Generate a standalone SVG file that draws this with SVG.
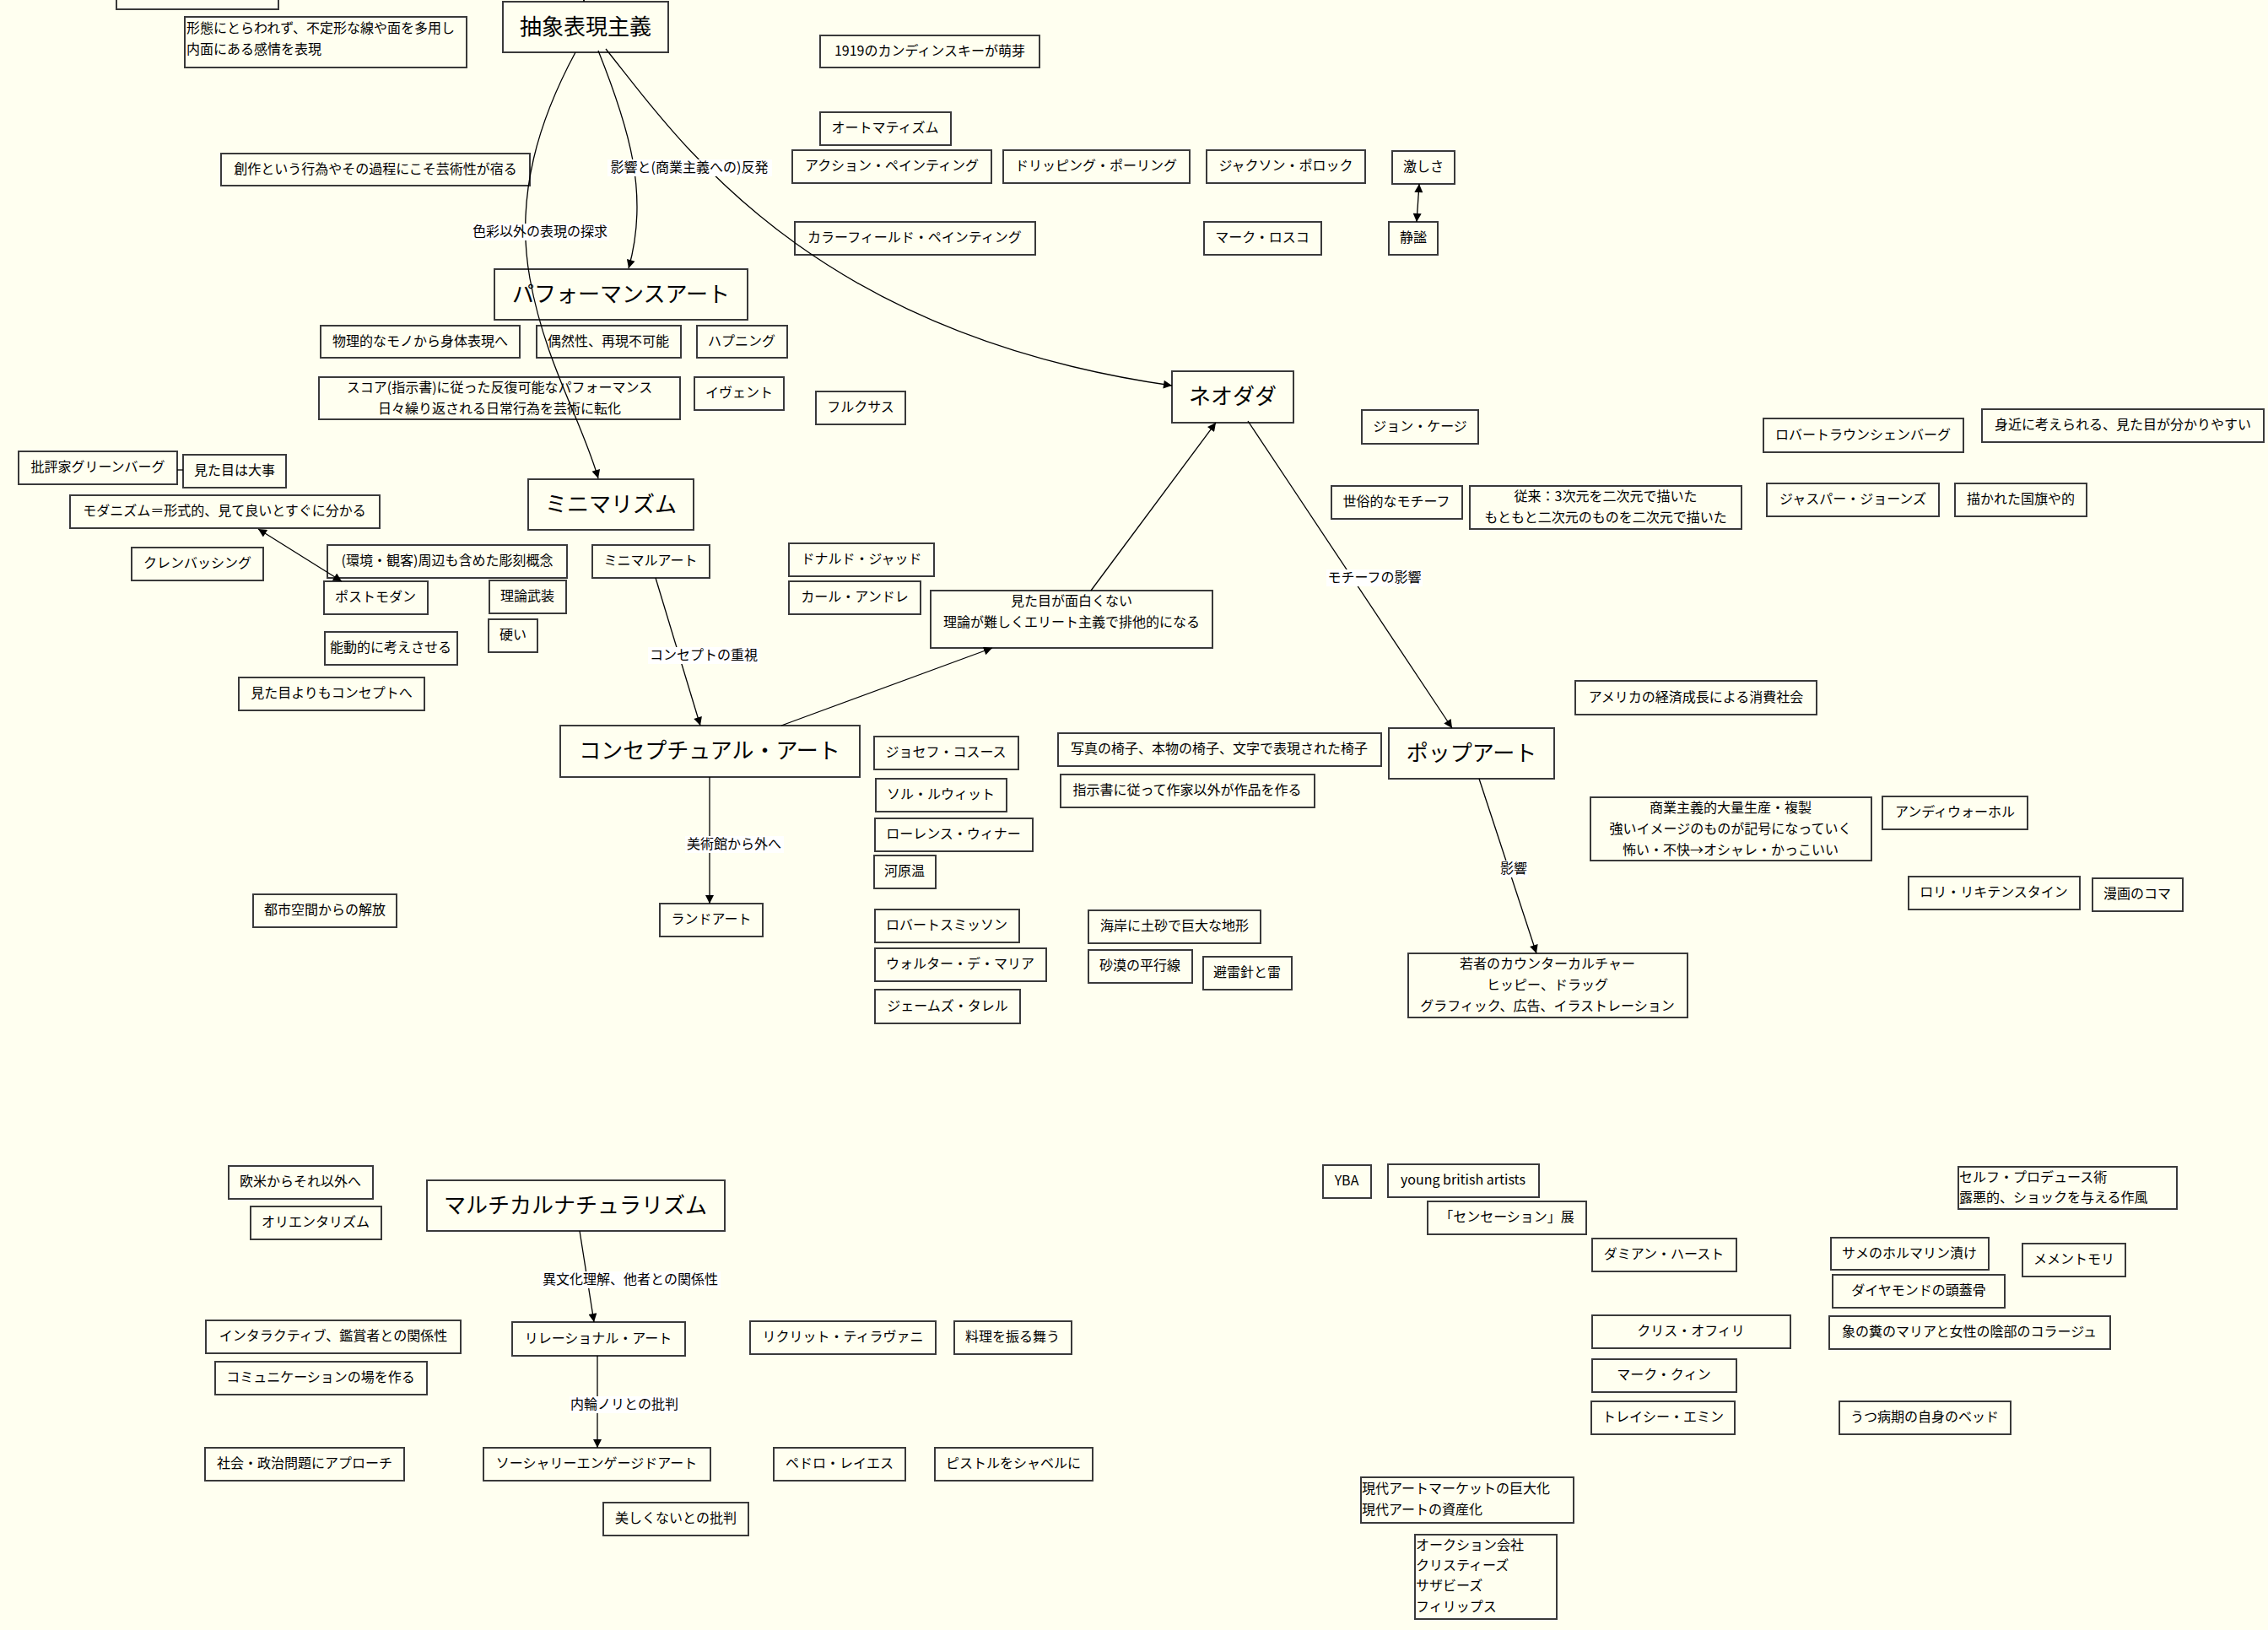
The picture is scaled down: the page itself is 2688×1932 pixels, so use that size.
<svg xmlns="http://www.w3.org/2000/svg" width="2688" height="1932" viewBox="0 0 2688 1932">
<defs>
<marker id="ah" viewBox="0 0 10 10" refX="10" refY="5" markerUnits="userSpaceOnUse" markerWidth="15" markerHeight="10" orient="auto-start-reverse"><path d="M0,0 L10,5 L0,10 Z" fill="#000"/></marker>
<style>
.n rect{fill:none;stroke:#3a3a3a;stroke-width:2}
text{font-family:"Noto Sans CJK JP","Noto Sans CJK SC",sans-serif;font-size:16px;fill:#000;text-anchor:middle;dominant-baseline:central;transform:translateY(-2px)}
text.b{font-size:26px}
text.l{text-anchor:start}
.e{stroke:#000;stroke-width:1.3;fill:none}
.lb{fill:#fff}
</style>
</defs>
<rect x="0" y="0" width="2688" height="1932" fill="#FFFFF0"/>
<g id="nodes">
<g id="n_top" class="n"><rect x="138" y="-30" width="192" height="41"/></g>
<g id="n_keitai" class="n"><rect x="219" y="20" width="334" height="60"/><text class="l" x="221" y="34">形態にとらわれず、不定形な線や面を多用し</text><text class="l" x="221" y="59">内面にある感情を表現</text></g>
<g id="n_chusho" class="n"><rect x="596" y="2" width="196" height="60"/><text class="b" x="694" y="31">抽象表現主義</text></g>
<g id="n_1919" class="n"><rect x="972" y="42" width="260" height="38"/><text x="1102" y="61">1919のカンディンスキーが萌芽</text></g>
<g id="n_sosaku" class="n"><rect x="262" y="182" width="366" height="38"/><text x="445" y="201">創作という行為やその過程にこそ芸術性が宿る</text></g>
<g id="n_auto" class="n"><rect x="972" y="133" width="155" height="39"/><text x="1049" y="152">オートマティズム</text></g>
<g id="n_action" class="n"><rect x="939" y="178" width="236" height="39"/><text x="1057" y="197">アクション・ペインティング</text></g>
<g id="n_drip" class="n"><rect x="1189" y="178" width="221" height="39"/><text x="1299" y="197">ドリッピング・ポーリング</text></g>
<g id="n_pollock" class="n"><rect x="1430" y="178" width="188" height="39"/><text x="1524" y="197">ジャクソン・ポロック</text></g>
<g id="n_hageshisa" class="n"><rect x="1650" y="179" width="74" height="39"/><text x="1687" y="198">激しさ</text></g>
<g id="n_colorfield" class="n"><rect x="942" y="263" width="285" height="39"/><text x="1084" y="282">カラーフィールド・ペインティング</text></g>
<g id="n_rothko" class="n"><rect x="1427" y="263" width="139" height="39"/><text x="1496" y="282">マーク・ロスコ</text></g>
<g id="n_seihitsu" class="n"><rect x="1646" y="263" width="58" height="39"/><text x="1675" y="282">静謐</text></g>
<g id="n_perf" class="n"><rect x="586" y="319" width="300" height="60"/><text class="b" x="736" y="348">パフォーマンスアート</text></g>
<g id="n_butsuri" class="n"><rect x="380" y="386" width="236" height="38"/><text x="498" y="405">物理的なモノから身体表現へ</text></g>
<g id="n_guzen" class="n"><rect x="636" y="386" width="171" height="38"/><text x="721" y="405">偶然性、再現不可能</text></g>
<g id="n_happening" class="n"><rect x="826" y="386" width="107" height="38"/><text x="879" y="405">ハプニング</text></g>
<g id="n_score" class="n"><rect x="378" y="447" width="428" height="50"/><text x="592" y="460">スコア(指示書)に従った反復可能なパフォーマンス</text><text x="592" y="485">日々繰り返される日常行為を芸術に転化</text></g>
<g id="n_event" class="n"><rect x="823" y="447" width="106" height="39"/><text x="876" y="466">イヴェント</text></g>
<g id="n_fluxus" class="n"><rect x="967" y="464" width="106" height="39"/><text x="1020" y="483">フルクサス</text></g>
<g id="n_neodada" class="n"><rect x="1389" y="440" width="144" height="61"/><text class="b" x="1461" y="469">ネオダダ</text></g>
<g id="n_cage" class="n"><rect x="1614" y="486" width="138" height="40"/><text x="1683" y="506">ジョン・ケージ</text></g>
<g id="n_rauschenberg" class="n"><rect x="2090" y="496" width="237" height="40"/><text x="2208" y="516">ロバートラウンシェンバーグ</text></g>
<g id="n_mijika" class="n"><rect x="2349" y="485" width="334" height="39"/><text x="2516" y="504">身近に考えられる、見た目が分かりやすい</text></g>
<g id="n_sezoku" class="n"><rect x="1578" y="576" width="155" height="39"/><text x="1655" y="595">世俗的なモチーフ</text></g>
<g id="n_jurai" class="n"><rect x="1742" y="576" width="322" height="51"/><text x="1903" y="589">従来：3次元を二次元で描いた</text><text x="1903" y="614">もともと二次元のものを二次元で描いた</text></g>
<g id="n_johns" class="n"><rect x="2094" y="573" width="204" height="39"/><text x="2196" y="592">ジャスパー・ジョーンズ</text></g>
<g id="n_kokki" class="n"><rect x="2317" y="573" width="156" height="39"/><text x="2395" y="592">描かれた国旗や的</text></g>
<g id="n_greenberg" class="n"><rect x="22" y="535" width="188" height="39"/><text x="116" y="554">批評家グリーンバーグ</text></g>
<g id="n_mitame" class="n"><rect x="217" y="539" width="122" height="39"/><text x="278" y="558">見た目は大事</text></g>
<g id="n_modernism" class="n"><rect x="83" y="587" width="367" height="39"/><text x="266" y="606">モダニズム＝形式的、見て良いとすぐに分かる</text></g>
<g id="n_minimalism" class="n"><rect x="626" y="568" width="196" height="60"/><text class="b" x="724" y="597">ミニマリズム</text></g>
<g id="n_kuren" class="n"><rect x="156" y="649" width="156" height="39"/><text x="234" y="668">クレンバッシング</text></g>
<g id="n_kankyo" class="n"><rect x="388" y="646" width="284" height="39"/><text x="530" y="665">(環境・観客)周辺も含めた彫刻概念</text></g>
<g id="n_minimalart" class="n"><rect x="702" y="646" width="139" height="39"/><text x="771" y="665">ミニマルアート</text></g>
<g id="n_postmodern" class="n"><rect x="384" y="689" width="123" height="39"/><text x="445" y="708">ポストモダン</text></g>
<g id="n_riron" class="n"><rect x="580" y="688" width="91" height="39"/><text x="625" y="707">理論武装</text></g>
<g id="n_katai" class="n"><rect x="579" y="734" width="58" height="39"/><text x="608" y="753">硬い</text></g>
<g id="n_nodo" class="n"><rect x="385" y="749" width="157" height="39"/><text x="463" y="768">能動的に考えさせる</text></g>
<g id="n_mitameyori" class="n"><rect x="283" y="803" width="220" height="39"/><text x="393" y="822">見た目よりもコンセプトへ</text></g>
<g id="n_judd" class="n"><rect x="935" y="644" width="172" height="39"/><text x="1021" y="663">ドナルド・ジャッド</text></g>
<g id="n_andre" class="n"><rect x="935" y="689" width="156" height="39"/><text x="1013" y="708">カール・アンドレ</text></g>
<g id="n_omoshiroku" class="n"><rect x="1103" y="700" width="334" height="68"/><text x="1270" y="713">見た目が面白くない</text><text x="1270" y="738">理論が難しくエリート主義で排他的になる</text></g>
<g id="n_conceptual" class="n"><rect x="664" y="860" width="355" height="61"/><text class="b" x="841" y="889">コンセプチュアル・アート</text></g>
<g id="n_kosuth" class="n"><rect x="1036" y="873" width="171" height="39"/><text x="1121" y="892">ジョセフ・コスース</text></g>
<g id="n_lewitt" class="n"><rect x="1038" y="923" width="155" height="39"/><text x="1115" y="942">ソル・ルウィット</text></g>
<g id="n_weiner" class="n"><rect x="1037" y="970" width="187" height="39"/><text x="1130" y="989">ローレンス・ウィナー</text></g>
<g id="n_kawara" class="n"><rect x="1036" y="1014" width="73" height="39"/><text x="1072" y="1033">河原温</text></g>
<g id="n_isu" class="n"><rect x="1254" y="869" width="383" height="39"/><text x="1445" y="888">写真の椅子、本物の椅子、文字で表現された椅子</text></g>
<g id="n_shiji" class="n"><rect x="1257" y="918" width="301" height="39"/><text x="1407" y="937">指示書に従って作家以外が作品を作る</text></g>
<g id="n_america" class="n"><rect x="1867" y="807" width="286" height="40"/><text x="2010" y="827">アメリカの経済成長による消費社会</text></g>
<g id="n_pop" class="n"><rect x="1646" y="863" width="196" height="60"/><text class="b" x="1744" y="892">ポップアート</text></g>
<g id="n_shogyo" class="n"><rect x="1885" y="945" width="333" height="75"/><text x="2051" y="958">商業主義的大量生産・複製</text><text x="2051" y="983">強いイメージのものが記号になっていく</text><text x="2051" y="1008">怖い・不快→オシャレ・かっこいい</text></g>
<g id="n_warhol" class="n"><rect x="2231" y="944" width="172" height="39"/><text x="2317" y="963">アンディウォーホル</text></g>
<g id="n_lichtenstein" class="n"><rect x="2262" y="1039" width="203" height="39"/><text x="2363" y="1058">ロリ・リキテンスタイン</text></g>
<g id="n_manga" class="n"><rect x="2480" y="1041" width="107" height="39"/><text x="2533" y="1060">漫画のコマ</text></g>
<g id="n_toshi" class="n"><rect x="300" y="1060" width="170" height="39"/><text x="385" y="1079">都市空間からの解放</text></g>
<g id="n_landart" class="n"><rect x="782" y="1071" width="122" height="39"/><text x="843" y="1090">ランドアート</text></g>
<g id="n_smithson" class="n"><rect x="1037" y="1078" width="171" height="39"/><text x="1122" y="1097">ロバートスミッソン</text></g>
<g id="n_demaria" class="n"><rect x="1037" y="1124" width="203" height="39"/><text x="1138" y="1143">ウォルター・デ・マリア</text></g>
<g id="n_turrell" class="n"><rect x="1037" y="1173" width="172" height="40"/><text x="1123" y="1193">ジェームズ・タレル</text></g>
<g id="n_kaigan" class="n"><rect x="1290" y="1079" width="204" height="39"/><text x="1392" y="1098">海岸に土砂で巨大な地形</text></g>
<g id="n_sabaku" class="n"><rect x="1290" y="1126" width="123" height="39"/><text x="1351" y="1145">砂漠の平行線</text></g>
<g id="n_hiraishin" class="n"><rect x="1426" y="1134" width="105" height="39"/><text x="1478" y="1153">避雷針と雷</text></g>
<g id="n_wakamono" class="n"><rect x="1669" y="1130" width="331" height="76"/><text x="1834" y="1143">若者のカウンターカルチャー</text><text x="1834" y="1168">ヒッピー、ドラッグ</text><text x="1834" y="1193">グラフィック、広告、イラストレーション</text></g>
<g id="n_obei" class="n"><rect x="271" y="1382" width="171" height="39"/><text x="356" y="1401">欧米からそれ以外へ</text></g>
<g id="n_orientalism" class="n"><rect x="297" y="1430" width="155" height="39"/><text x="374" y="1449">オリエンタリズム</text></g>
<g id="n_multi" class="n"><rect x="506" y="1399" width="353" height="60"/><text class="b" x="682" y="1428">マルチカルナチュラリズム</text></g>
<g id="n_interactive" class="n"><rect x="244" y="1565" width="302" height="39"/><text x="395" y="1584">インタラクティブ、鑑賞者との関係性</text></g>
<g id="n_relational" class="n"><rect x="607" y="1567" width="205" height="40"/><text x="709" y="1587">リレーショナル・アート</text></g>
<g id="n_tiravanija" class="n"><rect x="889" y="1566" width="220" height="39"/><text x="999" y="1585">リクリット・ティラヴァニ</text></g>
<g id="n_ryori" class="n"><rect x="1131" y="1566" width="139" height="39"/><text x="1200" y="1585">料理を振る舞う</text></g>
<g id="n_comm" class="n"><rect x="255" y="1614" width="251" height="39"/><text x="380" y="1633">コミュニケーションの場を作る</text></g>
<g id="n_shakai" class="n"><rect x="243" y="1716" width="236" height="39"/><text x="361" y="1735">社会・政治問題にアプローチ</text></g>
<g id="n_socially" class="n"><rect x="573" y="1716" width="269" height="39"/><text x="707" y="1735">ソーシャリーエンゲージドアート</text></g>
<g id="n_reyes" class="n"><rect x="917" y="1716" width="156" height="39"/><text x="995" y="1735">ペドロ・レイエス</text></g>
<g id="n_pistol" class="n"><rect x="1108" y="1716" width="187" height="39"/><text x="1201" y="1735">ピストルをシャベルに</text></g>
<g id="n_utsukushiku" class="n"><rect x="715" y="1781" width="172" height="39"/><text x="801" y="1800">美しくないとの批判</text></g>
<g id="n_yba" class="n"><rect x="1568" y="1381" width="57" height="39"/><text x="1596" y="1400">YBA</text></g>
<g id="n_young" class="n"><rect x="1645" y="1380" width="179" height="39"/><text x="1734" y="1399">young british artists</text></g>
<g id="n_sensation" class="n"><rect x="1692" y="1424" width="188" height="39"/><text x="1786" y="1443">「センセーション」展</text></g>
<g id="n_self" class="n"><rect x="2321" y="1383" width="259" height="50"/><text class="l" x="2322" y="1396">セルフ・プロデュース術</text><text class="l" x="2322" y="1420">露悪的、ショックを与える作風</text></g>
<g id="n_hirst" class="n"><rect x="1887" y="1468" width="171" height="39"/><text x="1972" y="1487">ダミアン・ハースト</text></g>
<g id="n_same" class="n"><rect x="2170" y="1467" width="187" height="38"/><text x="2263" y="1486">サメのホルマリン漬け</text></g>
<g id="n_memento" class="n"><rect x="2397" y="1474" width="122" height="39"/><text x="2458" y="1493">メメントモリ</text></g>
<g id="n_diamond" class="n"><rect x="2172" y="1511" width="204" height="39"/><text x="2274" y="1530">ダイヤモンドの頭蓋骨</text></g>
<g id="n_ofili" class="n"><rect x="1887" y="1559" width="235" height="39"/><text x="2004" y="1578">クリス・オフィリ</text></g>
<g id="n_zo" class="n"><rect x="2168" y="1560" width="333" height="39"/><text x="2334" y="1579">象の糞のマリアと女性の陰部のコラージュ</text></g>
<g id="n_quinn" class="n"><rect x="1887" y="1611" width="171" height="39"/><text x="1972" y="1630">マーク・クィン</text></g>
<g id="n_emin" class="n"><rect x="1886" y="1661" width="170" height="39"/><text x="1971" y="1680">トレイシー・エミン</text></g>
<g id="n_utsu" class="n"><rect x="2180" y="1661" width="203" height="39"/><text x="2281" y="1680">うつ病期の自身のベッド</text></g>
<g id="n_market" class="n"><rect x="1613" y="1751" width="252" height="54"/><text class="l" x="1614" y="1765">現代アートマーケットの巨大化</text><text class="l" x="1614" y="1790">現代アートの資産化</text></g>
<g id="n_auction" class="n"><rect x="1677" y="1819" width="168" height="100"/><text class="l" x="1678" y="1832">オークション会社</text><text class="l" x="1678" y="1856">クリスティーズ</text><text class="l" x="1678" y="1880">サザビーズ</text><text class="l" x="1678" y="1905">フィリップス</text></g>
</g>
<g id="connectors">
<path class="e" d="M692,-20 L692,2" marker-end="url(#ah)"/>
<path class="e" d="M682,62 C640,140 610,230 628,330 S690,500 709,567" marker-end="url(#ah)"/>
<path class="e" d="M709,60 C745,150 770,230 745,318" marker-end="url(#ah)"/>
<path class="e" d="M718,58 C800,160 955,395 1389,457" marker-end="url(#ah)"/>
<path class="e" d="M1682,218 L1679,263" marker-start="url(#ah)" marker-end="url(#ah)"/>
<path class="e" d="M210,557 L217,557"/>
<path class="e" d="M306,627 L405,689" marker-start="url(#ah)" marker-end="url(#ah)"/>
<path class="e" d="M777,685 L830,860" marker-end="url(#ah)"/>
<path class="e" d="M926,860 L1176,768" marker-end="url(#ah)"/>
<path class="e" d="M1293,700 L1441,501" marker-end="url(#ah)"/>
<path class="e" d="M1479,499 L1721,863" marker-end="url(#ah)"/>
<path class="e" d="M841,921 L841,1071" marker-end="url(#ah)"/>
<path class="e" d="M1753,923 L1821,1130" marker-end="url(#ah)"/>
<path class="e" d="M687,1459 L704,1567" marker-end="url(#ah)"/>
<path class="e" d="M708,1607 L708,1716" marker-end="url(#ah)"/>
<g id="edge_labels">
<rect class="lb" x="720" y="189" width="195" height="20"/><text x="817" y="199">影響と(商業主義への)反発</text>
<rect class="lb" x="559" y="265" width="163" height="20"/><text x="640" y="275">色彩以外の表現の探求</text>
<rect class="lb" x="768" y="767" width="132" height="20"/><text x="834" y="777">コンセプトの重視</text>
<rect class="lb" x="812" y="991" width="117" height="20"/><text x="870" y="1001">美術館から外へ</text>
<rect class="lb" x="1572" y="675" width="114" height="20"/><text x="1629" y="685">モチーフの影響</text>
<rect class="lb" x="1778" y="1020" width="33" height="20"/><text x="1794" y="1030">影響</text>
<rect class="lb" x="640" y="1507" width="214" height="20"/><text x="747" y="1517">異文化理解、他者との関係性</text>
<rect class="lb" x="675" y="1655" width="130" height="20"/><text x="740" y="1665">内輪ノリとの批判</text>
</g>
</g>
</svg>
